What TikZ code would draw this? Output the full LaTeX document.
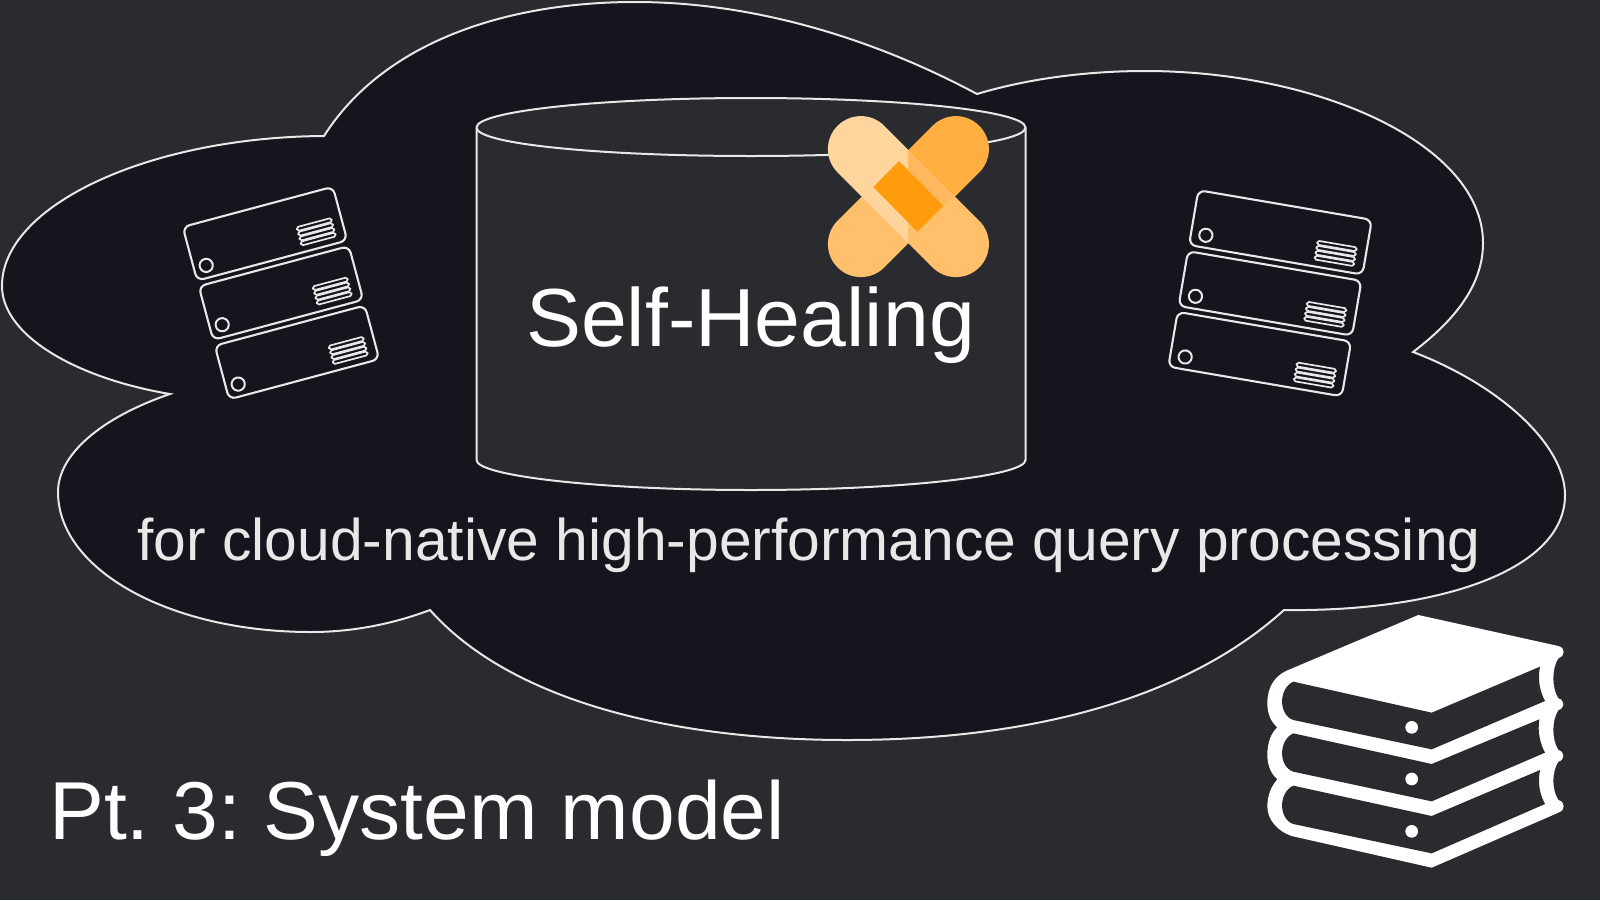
\documentclass[tikz,border=0pt]{standalone}
\usepackage{fontspec}
\setmainfont{Liberation Sans}
\definecolor{bgc}{HTML}{2A2B2F}
\definecolor{cloudc}{HTML}{16141C}
\definecolor{linec}{HTML}{E8E8E8}
\definecolor{pTL}{HTML}{FFD59E}
\definecolor{pTR}{HTML}{FFAE42}
\definecolor{pBR}{HTML}{FFBF6B}
\definecolor{pStrip}{HTML}{FFB85E}
\definecolor{pC}{HTML}{FF9C0E}
\tikzset{
  outline/.style={draw=linec,line width=1pt},
  rack/.style={draw=linec,line width=1.05pt,rounded corners=3.5pt},
  rackbar/.style={draw=linec,line width=0.85pt,rounded corners=0.9pt},
  label/.style={inner sep=0,anchor=base},
}
% #1 half width, #2 bars start, #3 bars end, #4 circle x
\newcommand{\rackunit}[4]{%
  \draw[rack] (-#1,-27.8) rectangle (#1,27.8);
  \draw[draw=linec,line width=1pt] (#4,15.4) circle (6.6);
  \foreach \rowy in {-0.3,4.7,9.7,14.7}{%
    \draw[rackbar] (#2,\rowy+2.2) rectangle (#3,\rowy+6.2);
  }%
}
\begin{document}
\frenchspacing
\begin{tikzpicture}[x=0.5pt,y=-0.5pt]
\useasboundingbox (0,0) rectangle (1600,900);
\fill[bgc] (0,0) rectangle (1600,900);
% cloud
\path[outline,fill=cloudc] (324,136)
  .. controls (385,40) and (510,2) .. (635,2)
  .. controls (760,2) and (880,42) .. (977,94)
  .. controls (1030,78) and (1090,71) .. (1145,71)
  .. controls (1320,71) and (1483,145) .. (1483,243)
  .. controls (1483,285) and (1455,320) .. (1413,352)
  .. controls (1500,385) and (1565,445) .. (1565,495)
  .. controls (1565,570) and (1440,612) .. (1284,610)
  .. controls (1190,695) and (1040,740) .. (847,740)
  .. controls (670,740) and (510,700) .. (430,610)
  .. controls (390,625) and (350,632) .. (311,632)
  .. controls (170,632) and (58,570) .. (58,492)
  .. controls (58,455) and (100,418) .. (170,394)
  .. controls (75,378) and (2,335) .. (2,286)
  .. controls (2,205) and (150,137) .. (324,136) -- cycle;
% cylinder
\path[outline,fill=bgc] (476.5,127.5) -- (476.5,460)
  .. controls (476.5,476) and (600,490) .. (751,490)
  .. controls (902,490) and (1025.5,476) .. (1025.5,460)
  -- (1025.5,127.5)
  .. controls (1025.5,111) and (902,98) .. (751,98)
  .. controls (600,98) and (476.5,111) .. (476.5,127.5) -- cycle;
\draw[outline] (476.5,127.5)
  .. controls (476.5,144) and (600,156) .. (751,156)
  .. controls (902,156) and (1025.5,144) .. (1025.5,127.5);
% plaster
\begin{scope}[shift={(908.4,196.6)},line cap=round,line width=33pt]
  \draw[pTR] (0,0) -- (47.5,-47.5);
  \draw[pBR] (0,0) -- (-47.5,47.5);
  \begin{scope}
    \clip (-100,-100) rectangle (0,100);
    \draw[pTL] (-47.5,-47.5) -- (47.5,47.5);
  \end{scope}
  \begin{scope}
    \clip (0,-100) rectangle (100,100);
    \draw[pBR] (-47.5,-47.5) -- (47.5,47.5);
  \end{scope}
  \fill[pStrip] (0,-46.6) -- (46.6,0) -- (35,9.1) -- (0,-26.6) -- cycle;
  \fill[pC] (-9.4,-35.6) -- (34.9,9.1) -- (8.9,35.1) -- (-35.1,-9.6) -- cycle;
\end{scope}
% left rack
\begin{scope}[shift={(265,233.7)},rotate=15]
  \rackunit{77.7}{32}{68}{-65}
\end{scope}
\begin{scope}[shift={(281,293)},rotate=15]
  \rackunit{77.7}{32}{68}{-65}
\end{scope}
\begin{scope}[shift={(297,352.4)},rotate=15]
  \rackunit{77.7}{32}{68}{-65}
\end{scope}
% right rack
\begin{scope}[shift={(1280.4,232.4)},rotate=-9.7]
  \rackunit{88}{38}{78}{-73}
\end{scope}
\begin{scope}[shift={(1270,293.4)},rotate=-9.7]
  \rackunit{88}{38}{78}{-73}
\end{scope}
\begin{scope}[shift={(1259.7,354.1)},rotate=-9.7]
  \rackunit{88}{38}{78}{-73}
\end{scope}
% books
\begin{scope}[shift={(1250,600)},x=0.16667pt,y=-0.16667pt]
  \fill[white] (505,45) -- (925,138)
    .. controls (945,143) and (948,165) .. (925,175)
    .. controls (905,205) and (905,265) .. (925,295)
    .. controls (945,300) and (945,325) .. (925,330)
    .. controls (905,360) and (905,420) .. (925,450)
    .. controls (945,455) and (945,480) .. (925,485)
    .. controls (905,515) and (905,570) .. (925,600)
    .. controls (945,605) and (948,630) .. (925,638)
    -- (545,803) -- (125,708)
    .. controls (85,695) and (52,660) .. (52,620)
    .. controls (52,590) and (62,560) .. (82,538)
    .. controls (62,520) and (52,495) .. (52,465)
    .. controls (52,430) and (62,400) .. (82,382)
    .. controls (62,365) and (52,340) .. (52,310)
    .. controls (52,260) and (75,228) .. (110,212) -- cycle;
  \fill[bgc] (130,245) -- (545,338) -- (870,200)
    .. controls (862,240) and (870,275) .. (885,303) -- (545,448) -- (130,360)
    .. controls (85,345) and (85,265) .. (130,245) -- cycle;
  \fill[bgc] (130,400) -- (545,492) -- (868,358)
    .. controls (862,395) and (870,430) .. (885,458) -- (545,604) -- (130,515)
    .. controls (85,500) and (85,420) .. (130,400) -- cycle;
  \fill[bgc] (130,557) -- (545,648) -- (870,510)
    .. controls (862,550) and (870,585) .. (885,612) -- (545,760) -- (130,672)
    .. controls (85,657) and (85,577) .. (130,557) -- cycle;
  \fill[white] (485,382) circle (19);
  \fill[white] (485,537) circle (19);
  \fill[white] (485,694) circle (19);
\end{scope}
% text
\node[label,text=white,font=\fontsize{41.2pt}{48pt}\selectfont] (heal) at (750.5,346.5) {Self-Healing};
\node[label,text=linec,font=\fontsize{29.4pt}{34pt}\selectfont] (sub) at (809,560) {for cloud-native high-performance query processing};
\node[label,text=white,font=\fontsize{41.1pt}{48pt}\selectfont] (part) at (417,839) {Pt. 3: System model};
\end{tikzpicture}
\end{document}
